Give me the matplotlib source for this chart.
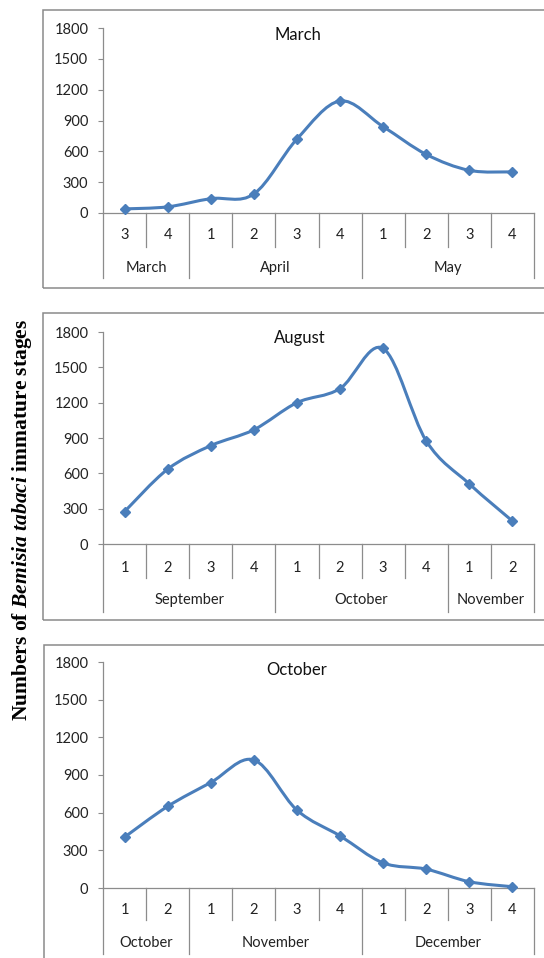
import matplotlib
matplotlib.use('Agg')
import matplotlib.pyplot as plt
from matplotlib.path import Path
from matplotlib.patches import PathPatch, Rectangle
import numpy as np

plt.rcParams['font.family'] = ['Lato', 'DejaVu Sans']
plt.rcParams['mathtext.fontset'] = 'custom'
plt.rcParams['mathtext.it'] = 'Liberation Serif:italic:bold'
plt.rcParams['mathtext.rm'] = 'Liberation Serif:bold'

# weekly counts of immature stages, one series per sowing date
march_weeks = [3, 4, 1, 2, 3, 4, 1, 2, 3, 4]
march_months = ['March', 'April', 'May']
march_spans = [2, 4, 4]
march_counts = [40, 60, 140, 185, 720, 1090, 840, 570, 415, 400]

august_weeks = [1, 2, 3, 4, 1, 2, 3, 4, 1, 2]
august_months = ['September', 'October', 'November']
august_spans = [4, 4, 2]
august_counts = [275, 635, 835, 970, 1200, 1320, 1660, 875, 510, 195]

october_weeks = [1, 2, 1, 2, 3, 4, 1, 2, 3, 4]
october_months = ['October', 'November', 'December']
october_spans = [2, 4, 4]
october_counts = [405, 650, 840, 1020, 620, 415, 200, 150, 50, 10]

y_ticks = [0, 300, 600, 900, 1200, 1500, 1800]

W, H = 544, 958
LINE_BLUE = '#4A7EBB'
AXIS_GREY = '#8C8C8C'
BOX_GREY = '#8A8A8A'


def smooth_path(xs, ys):
    """Bezier path through the points, like Excel's smoothed line"""
    pts = np.column_stack([xs, ys]).astype(float)
    n = len(pts)
    verts = [pts[0]]
    codes = [Path.MOVETO]
    for i in range(n - 1):
        p_prev = pts[i - 1] if i > 0 else pts[i]
        p_next2 = pts[i + 2] if i + 2 < n else pts[i + 1]
        c1 = pts[i] + (pts[i + 1] - p_prev) / 6.0
        c2 = pts[i + 1] - (p_next2 - pts[i]) / 6.0
        verts += [c1, c2, pts[i + 1]]
        codes += [Path.CURVE4] * 3
    return Path(verts, codes)


def draw_panel(fig, box, top, zero, weeks, months, spans, counts, title,
               title_xy, row1, row2, lab1, lab2):
    # outer frame of the panel
    bx0, by0, bx1, by1 = box
    fig.add_artist(Rectangle((bx0 / W, 1 - by1 / H), (bx1 - bx0) / W,
                             (by1 - by0) / H, transform=fig.transFigure,
                             fill=False, ec=BOX_GREY, lw=1.1))

    ax = fig.add_axes([103 / W, 1 - zero / H, (534 - 103) / W, (zero - top) / H])
    h = zero - top
    x = np.arange(len(counts))

    ax.add_patch(PathPatch(smooth_path(x, counts), fill=False,
                           ec=LINE_BLUE, lw=2.2, capstyle='round', zorder=3))
    ax.plot(x, counts, 'D', color=LINE_BLUE, ms=5.5, zorder=4, clip_on=False)

    ax.set_xlim(-0.5, len(counts) - 0.5)
    ax.set_ylim(0, 1800)
    ax.set_yticks(y_ticks)
    ax.tick_params(axis='y', length=3.6, width=0.8, color=AXIS_GREY,
                   pad=7, labelsize=10.5, labelcolor='#222222')
    ax.set_xticks([])
    for s in ('top', 'right'):
        ax.spines[s].set_visible(False)
    for s in ('left', 'bottom'):
        ax.spines[s].set_color(AXIS_GREY)
        ax.spines[s].set_linewidth(0.9)

    # two-level category axis below the plot
    tr = ax.get_xaxis_transform()
    kw = dict(color=AXIS_GREY, lw=0.9, transform=tr, clip_on=False)
    ax.plot([-0.5, -0.5], [0, -row2 / h], **kw)
    bounds = np.cumsum([0] + spans) - 0.5
    for i in range(1, len(counts)):
        xb = i - 0.5
        depth = row2 if xb in bounds else row1
        ax.plot([xb, xb], [0, -depth / h], **kw)
    ax.plot([len(counts) - 0.5] * 2, [0, -row2 / h], **kw)

    for xi, w in zip(x, weeks):
        ax.text(xi, -lab1 / h, str(w), transform=tr, ha='center',
                va='center', fontsize=10.5, color='#222222')
    for b0, b1, m in zip(bounds[:-1], bounds[1:], months):
        ax.text((b0 + b1) / 2, -lab2 / h, m, transform=tr, ha='center',
                va='center', fontsize=10.5, color='#222222')

    fig.text(title_xy[0] / W, 1 - title_xy[1] / H, title, ha='center',
             va='center', fontsize=12, color='#111111')
    return ax


fig = plt.figure(figsize=(W / 100, H / 100), dpi=100)

draw_panel(fig, (43, 10, 560, 288), 28, 213, march_weeks, march_months,
           march_spans, march_counts, 'March', (298, 35), 34, 65, 22, 55)
draw_panel(fig, (43, 313, 560, 620), 332, 544, august_weeks, august_months,
           august_spans, august_counts, 'August', (300, 338), 34, 68, 24, 56)
draw_panel(fig, (44, 645, 560, 975), 662, 888, october_weeks, october_months,
           october_spans, october_counts, 'October', (297, 670), 32, 66, 22, 55)

fig.text(22 / W, 1 - 520 / H,
         r'Numbers of $Bemisia\ tabaci$ immature stages',
         rotation=90, ha='center', va='center', fontsize=15.5,
         family='Liberation Serif', fontweight='bold')

fig.savefig('out.png', dpi=100)
